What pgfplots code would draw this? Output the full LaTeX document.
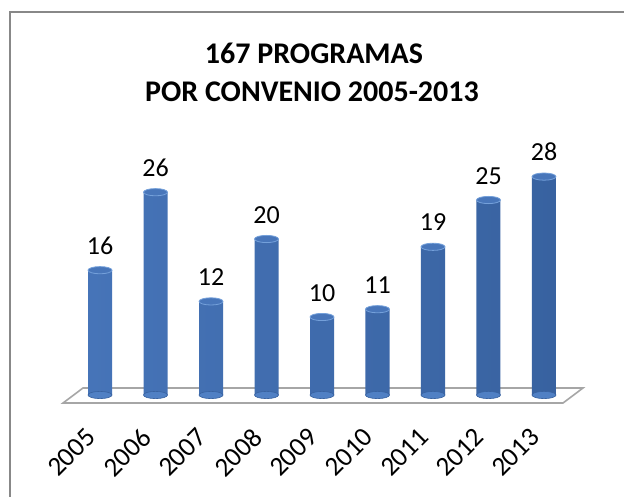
\documentclass[border=0pt]{standalone}
\usepackage{pgfplots}
\pgfplotsset{compat=1.18}
\usepackage{fontspec}
\setmainfont{Carlito}
\definecolor{CylL}{RGB}{70,116,184}
\definecolor{CylM}{RGB}{104,154,220}
\definecolor{CylR}{RGB}{56,98,160}
\definecolor{CylTop}{RGB}{72,118,186}
\definecolor{CylRim}{RGB}{116,160,218}
\definecolor{CylBot}{RGB}{80,128,196}
\definecolor{FloorLine}{RGB}{166,166,166}
\definecolor{FrameLine}{RGB}{136,136,136}

\begin{document}
\begin{tikzpicture}
\path[use as bounding box] (0pt,0pt) rectangle (624pt,496pt);

% chart frame (only top and left edges are inside the picture)
\draw[FrameLine,line width=2.5pt] (10pt,-2pt) -- (10pt,484pt) -- (630pt,484pt);

% title
\node[anchor=base,font=\fontsize{30}{38}\selectfont\bfseries] at (314pt,432pt) {167 PROGRAMAS};
\node[anchor=base,font=\fontsize{30}{38}\selectfont\bfseries] at (312pt,394pt) {POR CONVENIO 2005-2013};

\begin{axis}[
at={(72.25pt,101pt)},
anchor=south west,
scale only axis,
width=499.5pt,
height=234pt,
xmin=-0.5,
xmax=8.5,
ymin=0,
ymax=30,
clip=false,
axis line style={draw=none},
ytick=\empty,
xtick={0,1,2,3,4,5,6,7,8},
xticklabels={2005,2006,2007,2008,2009,2010,2011,2012,2013},
major tick length=0pt,
xticklabel style={xshift=-9pt,yshift=-38pt,rotate=45,anchor=east,inner sep=0pt,
  font=\fontsize{27}{30}\selectfont},
/pgf/number format/assume math mode=true,
]

% floor
\draw[FloorLine,line width=1.6pt,fill=white]
(axis cs:-0.667,-1.03) -- (axis cs:8.342,-1.03) -- (axis cs:8.703,0.9)
-- (axis cs:-0.306,0.9) -- cycle;

% cylinder bottoms
\addplot[only marks,mark=*,mark size=12pt,
mark options={yscale=0.3,fill=CylBot,draw=CylR,line width=0.6pt}]
coordinates {(0,0)(1,0)(2,0)(3,0)(4,0)(5,0)(6,0)(7,0)(8,0)};

% cylinder bodies
\addplot[ybar,bar width=24pt,draw=none,
left color=CylL,middle color=CylM,right color=CylR]
coordinates {(0,16)(1,26)(2,12)(3,20)(4,10)(5,11)(6,19)(7,25)(8,28)};

% cylinder tops with value labels
\addplot[only marks,mark=*,mark size=12pt,
mark options={yscale=0.3,fill=CylTop,draw=CylRim,line width=0.8pt},
nodes near coords,
nodes near coords style={anchor=base,yshift=16pt,text=black,
  font=\fontsize{26}{30}\selectfont}]
coordinates {(0,16)(1,26)(2,12)(3,20)(4,10)(5,11)(6,19)(7,25)(8,28)};

\end{axis}
\end{tikzpicture}
\end{document}
